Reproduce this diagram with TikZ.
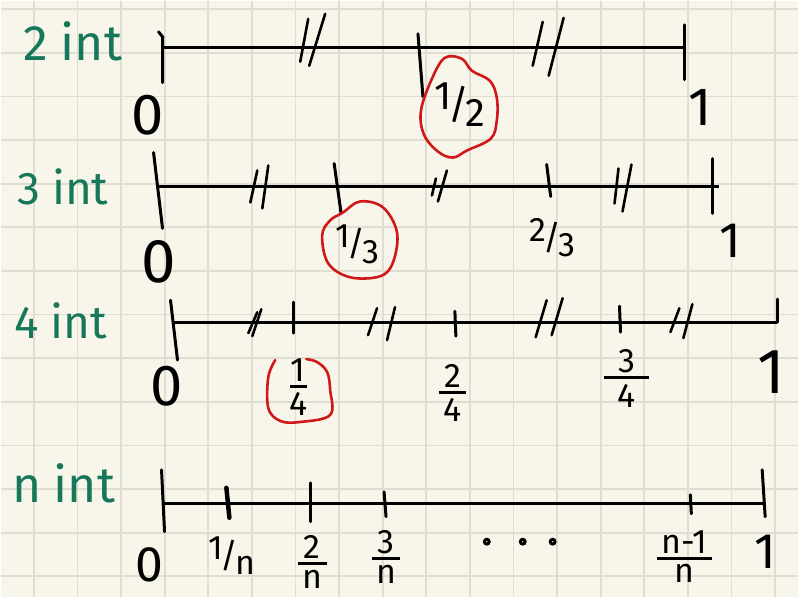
\documentclass[tikz,border=0pt]{standalone}
\usepackage{fontspec}
\setmainfont{Fira Sans}
\usetikzlibrary{positioning}
\definecolor{paper}{HTML}{F8F6EA}
\definecolor{gridline}{HTML}{E0DED2}
\definecolor{inkgreen}{HTML}{17775A}
\definecolor{inkred}{HTML}{D01818}

% stacked fraction with a thick bar
\newcommand{\vfrac}[3][0.9em]{\vbox{\offinterlineskip\halign{\hfil##\hfil\cr #2\cr\noalign{\kern4pt}\vrule width #1 height 2.6pt\cr\noalign{\kern5pt}#3\cr}}}
% slanted fraction
\newcommand{\slfrac}[2]{\raisebox{0.45ex}{#1}\kern-0.08em/\kern-0.08em\raisebox{-0.4ex}{#2}}

\begin{document}
\begin{tikzpicture}[
  x=1pt, y=-1pt,
  axis/.style={line width=2.8pt},
  tick/.style={line width=3pt, line cap=round},
  slash/.style={line width=2.6pt, line cap=round},
  ring/.style={draw=inkred, line width=2.6pt, line cap=round},
  rowlbl/.style={text=inkgreen, anchor=base west, inner sep=0pt,
                 font=\fontsize{50}{50}\selectfont},
  num/.style={inner sep=0pt, font=\fontsize{58}{58}\selectfont},
  fr/.style={inner sep=0pt, font=\fontsize{34}{34}\selectfont}
]
\fill[paper] (0,0) rectangle (799,597);
\foreach \gx in {0,...,17}
  \draw[gridline, line width=1.8pt] ({33+43.7*\gx},0) -- ++(0,597);
\foreach \gy in {0,...,13}
  \draw[gridline, line width=1.8pt] (0,{8.5+43.7*\gy}) -- ++(799,0);
\useasboundingbox (0,0) rectangle (799,597);

% row labels
\node[rowlbl] (two) at (22,60) {2 int};
\node[rowlbl, font=\fontsize{46}{46}\selectfont] (three) at (16,204) {3 int};
\node[rowlbl, font=\fontsize{46}{46}\selectfont] (four) at (13,338) {4 int};
\node[rowlbl] (enn) at (11,503) {n\hspace{0.25em}int};

% 2 intervals
\coordinate (a2l) at (162,47);
\coordinate (a2r) at (685,47);
\draw[axis] (a2l) -- (a2r);
\draw[tick] (158,31) -- (162,36) -- (162,82);
\draw[tick] (418,33) -- (423,96);
\draw[tick] (685,24) -- (685,79);
\draw[slash] (300,61) -- (308,18);
\draw[slash] (309,65) -- (325,13);
\draw[slash] (533,65) -- (543,21);
\draw[slash] (549,75) -- (564,17);
\node[num] (z2) at (147,115) {0};
\node[num, font=\fontsize{54}{54}\selectfont] (o2) at (701,107) {1};
\node[fr, font=\fontsize{40}{40}\selectfont] (h2) at (460,104) {\slfrac{1}{2}};
\draw[ring] plot[smooth cycle, tension=0.6] coordinates {(445,57) (462,58) (472,70)
  (490,80) (497,97) (497,120) (491,138) (467,150) (453,157) (438,151)
  (424,134) (421,110) (432,78)};

% 3 intervals
\coordinate (a3l) at (158,186);
\coordinate (a3r) at (720,186);
\draw[axis] (a3l) -- (a3r);
\draw[tick] (153,152) -- (162,228);
\draw[tick] (334,163) -- (341,213);
\draw[tick] (547,164) -- (551,196);
\draw[tick] (713,158) -- (713,213);
\draw[slash] (250,202) -- (257,170);
\draw[slash] (262,208) -- (268,165);
\draw[slash] (432,195) -- (436,178);
\draw[slash] (438,201) -- (447,170);
\draw[slash] (615,203) -- (619,168);
\draw[slash] (623,211) -- (632,164);
\node[num, font=\fontsize{62}{62}\selectfont] (z3) at (158,262) {0};
\node[num, font=\fontsize{50}{50}\selectfont] (o3) at (731,240) {1};
\node[fr] (t3) at (357,244) {\slfrac{1}{3}};
\node[fr] (tt3) at (553,237) {\slfrac{2}{3}};
\draw[ring] plot[smooth cycle, tension=0.6] coordinates {(343,212) (360,201)
  (383,207) (397,232) (393,262) (380,276) (350,277) (328,263) (322,235)
  (330,220)};

% 4 intervals
\coordinate (a4l) at (172,322);
\coordinate (a4r) at (778,322);
\draw[axis] (a4l) -- (a4r);
\draw[tick] (170,300) -- (177,360);
\draw[tick] (293,302) -- (293,333);
\draw[tick] (455,311) -- (456,336);
\draw[tick] (620,306) -- (621,332);
\draw[tick] (778,299) -- (778,322);
\draw[slash] (248,333) -- (257,312);
\draw[slash] (252,336) -- (261,309);
\draw[slash] (368,335) -- (377,308);
\draw[slash] (387,340) -- (395,307);
\draw[slash] (536,337) -- (547,300);
\draw[slash] (552,335) -- (563,298);
\draw[slash] (671,332) -- (680,308);
\draw[slash] (684,338) -- (693,304);
\node[num] (z4) at (166,386) {0};
\node[num, font=\fontsize{64}{64}\selectfont] (o4) at (772,372) {1};
\node[fr] (q4) at (298,387) {\vfrac[0.5em]{1}{4}};
\node[fr] (qq4) at (453,393) {\vfrac[0.8em]{2}{4}};
\node[fr] (qqq4) at (627,378) {\vfrac[1.35em]{3}{4}};
\draw[ring] plot[smooth, tension=0.6] coordinates {(275,360) (268,377)
  (268,408) (280,421) (300,422) (330,415) (330,390) (327,372) (317,362)
  (306,359)};

% n intervals
\coordinate (anl) at (162,504);
\coordinate (anr) at (765,504);
\draw[axis] (anl) -- (anr);
\draw[tick] (161,470) -- (164,532);
\draw[tick, line width=4.5pt] (226,488) -- (229,518);
\draw[tick] (310,483) -- (310,522);
\draw[tick] (384,492) -- (386,517);
\draw[tick] (691,495) -- (692,514);
\draw[tick] (763,470) -- (766,517);
\node[num, font=\fontsize{50}{50}\selectfont] (zn) at (149,565) {0};
\node[num, font=\fontsize{50}{50}\selectfont] (on) at (766,552) {1};
\node[fr] (fn1) at (232,556) {\slfrac{1}{n}};
\node[fr] (fn2) at (312,562) {\vfrac[0.85em]{2}{n}};
\node[fr] (fn3) at (386,557) {\vfrac[0.85em]{3}{n}};
\node[fr] (fnl) at (685,557) {\vfrac[1.6em]{n-1}{n}};
\foreach \dx in {487,523,553}
  \draw[line width=3pt] (\dx,542) circle (2.4pt);
\end{tikzpicture}
\end{document}
